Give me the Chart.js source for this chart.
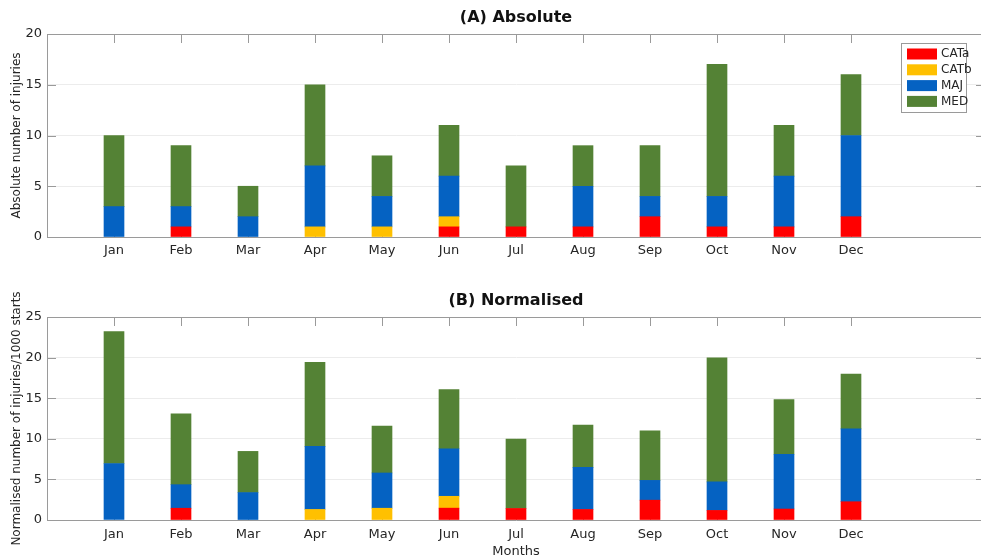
<!DOCTYPE html>
<html>
<head>
<meta charset="utf-8">
<script src="https://cdn.jsdelivr.net/npm/chart.js@4.4.1/dist/chart.umd.min.js"></script>
<style>
  html, body { margin: 0; padding: 0; background: #fff; overflow: hidden; }
  #wrap { position: relative; width: 981px; height: 559px; overflow: hidden; }
  canvas { position: absolute; left: 0; }
  #chartA { top: 0; }
  #chartB { top: 270px; }
</style>
</head>
<body>
<div id="wrap">
  <canvas id="chartA" width="990" height="270"></canvas>
  <canvas id="chartB" width="990" height="289"></canvas>
</div>
<script>
const months = ["Jan", "Feb", "Mar", "Apr", "May", "Jun", "Jul", "Aug", "Sep", "Oct", "Nov", "Dec"];
const seriesNames = ["CATa", "CATb", "MAJ", "MED"];
const seriesColors = ["#ff0000", "#ffc000", "#0562c2", "#548235"];

// (A) absolute counts per severity, stacked
const absCATa = [0, 1, 0, 0, 0, 1, 1, 1, 2, 1, 1, 2];
const absCATb = [0, 0, 0, 1, 1, 1, 0, 0, 0, 0, 0, 0];
const absMAJ  = [3, 2, 2, 6, 3, 4, 0, 4, 2, 3, 5, 8];
const absMED  = [7, 6, 3, 8, 4, 5, 6, 4, 5, 13, 5, 6];

// (B) normalised per 1000 starts, stacked
const normCATa = [0, 1.45, 0, 0, 0, 1.46, 1.42, 1.30, 2.44, 1.18, 1.35, 2.25];
const normCATb = [0, 0, 0, 1.30, 1.45, 1.46, 0, 0, 0, 0, 0, 0];
const normMAJ  = [6.96, 2.90, 3.38, 7.77, 4.34, 5.85, 0, 5.19, 2.44, 3.52, 6.75, 8.97];
const normMED  = [16.24, 8.71, 5.07, 10.36, 5.78, 7.30, 8.54, 5.19, 6.11, 15.27, 6.74, 6.74];

const yTicksA = [0, 5, 10, 15, 20];
const yTicksB = [0, 5, 10, 15, 20, 25];

const FONT = "'DejaVu Sans', sans-serif";
const AXIS = "#9a9a9a";
const TEXT = "#262626";

// MATLAB-like box with inward ticks, plus optional legend
const framePlugin = {
    id: "frame",
    beforeDatasetsDraw(chart) {
        const { ctx, chartArea: a, scales } = chart;
        const tl = 9;
        ctx.save();
        ctx.strokeStyle = AXIS;
        ctx.lineWidth = 1;
        ctx.beginPath();
        ctx.moveTo(a.left, a.top + 0.5);
        ctx.lineTo(a.right, a.top + 0.5);
        ctx.moveTo(a.right - 0.5, a.top);
        ctx.lineTo(a.right - 0.5, a.bottom);
        months.forEach((m, i) => {
            const x = Math.round(scales.x.getPixelForValue(i + 1)) + 0.5;
            ctx.moveTo(x, a.top);
            ctx.lineTo(x, a.top + tl);
            ctx.moveTo(x, a.bottom);
            ctx.lineTo(x, a.bottom - tl);
        });
        scales.y.ticks.forEach(t => {
            const y = Math.round(scales.y.getPixelForValue(t.value)) + 0.5;
            ctx.moveTo(a.right, y);
            ctx.lineTo(a.right - tl, y);
            ctx.moveTo(a.left, y);
            ctx.lineTo(a.left + tl, y);
        });
        ctx.stroke();

        const title = chart.options.plugins.frame.title;
        ctx.fillStyle = "#111";
        ctx.font = "bold 16px " + FONT;
        ctx.textAlign = "center";
        ctx.textBaseline = "middle";
        ctx.fillText(title, (a.left + a.right) / 2, a.top - 16);
        ctx.restore();
    },
    afterDraw(chart) {
        if (!chart.options.plugins.frame.legend) return;
        const { ctx } = chart;
        const bx = 901, by = 43, bw = 65, bh = 69;
        ctx.save();
        ctx.fillStyle = "#fff";
        ctx.fillRect(bx, by, bw, bh);
        ctx.strokeStyle = AXIS;
        ctx.strokeRect(bx + 0.5, by + 0.5, bw, bh);
        ctx.font = "12px " + FONT;
        ctx.textAlign = "left";
        ctx.textBaseline = "middle";
        chart.data.datasets.forEach((ds, i) => {
            const cy = by + 11 + i * 15.8;
            ctx.fillStyle = ds.backgroundColor;
            ctx.fillRect(bx + 6, cy - 5.5, 30, 11);
            ctx.fillStyle = TEXT;
            ctx.fillText(ds.label, bx + 40, cy);
        });
        ctx.restore();
    }
};

function makePanel(id, title, yTitle, yMax, yTicks, series, opts) {
    const datasets = seriesNames.map((name, s) => ({
        label: name,
        data: series[s].map((v, i) => ({ x: i + 1, y: v === 0 ? null : v })),
        backgroundColor: seriesColors[s],
        borderWidth: 0,
        barThickness: 20
    }));

    return new Chart(document.getElementById(id), {
        type: "bar",
        data: { datasets },
        plugins: [framePlugin],
        options: {
            responsive: false,
            animation: false,
            devicePixelRatio: 1,
            layout: { padding: { top: opts.top, right: 5, left: 0, bottom: 0 } },
            plugins: {
                legend: { display: false },
                tooltip: { enabled: false },
                frame: { title: title, legend: opts.legend }
            },
            scales: {
                x: {
                    type: "linear",
                    stacked: true,
                    offset: false,
                    min: 0,
                    max: 14,
                    afterBuildTicks: sc => { sc.ticks = months.map((m, i) => ({ value: i + 1 })); },
                    afterFit: sc => { sc.height = opts.xHeight; },
                    grid: { display: false, drawTicks: false, offset: false },
                    border: { color: AXIS },
                    ticks: {
                        autoSkip: false,
                        maxRotation: 0,
                        padding: opts.xPad,
                        color: TEXT,
                        font: { family: FONT, size: 13 },
                        callback: v => months[v - 1] || ""
                    },
                    title: {
                        display: !!opts.xTitle,
                        text: opts.xTitle || "",
                        color: TEXT,
                        padding: { top: 0, bottom: 0 },
                        font: { family: FONT, size: 13 }
                    }
                },
                y: {
                    stacked: true,
                    min: 0,
                    max: yMax,
                    afterBuildTicks: sc => { sc.ticks = yTicks.map(v => ({ value: v })); },
                    afterFit: sc => { sc.width = 47; },
                    grid: { color: "#ececec", drawTicks: false },
                    border: { color: AXIS },
                    ticks: {
                        padding: 5,
                        color: TEXT,
                        font: { family: FONT, size: 13 }
                    },
                    title: {
                        display: true,
                        text: yTitle,
                        color: TEXT,
                        padding: { top: 10, bottom: 0 },
                        font: { family: FONT, size: 12 }
                    }
                }
            }
        }
    });
}

makePanel("chartA", "(A) Absolute", "Absolute number of injuries", 20, yTicksA,
    [absCATa, absCATb, absMAJ, absMED],
    { top: 34, xHeight: 33, xPad: 6, legend: true });

makePanel("chartB", "(B) Normalised", "Normalised number of injuries/1000 starts", 25, yTicksB,
    [normCATa, normCATb, normMAJ, normMED],
    { top: 47, xHeight: 39, xPad: 7, legend: false, xTitle: "Months" });
</script>
</body>
</html>
